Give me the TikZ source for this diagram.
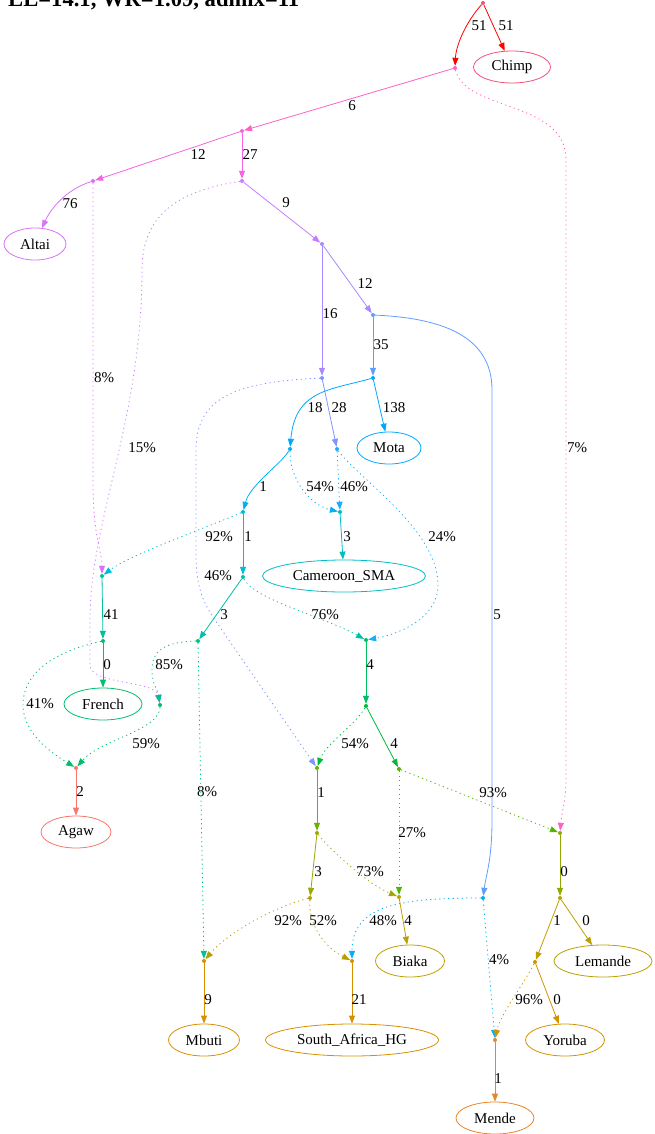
\documentclass[tikz,border=0pt]{standalone}
\usepackage{fontspec}
\setmainfont{Liberation Serif}
\usetikzlibrary{arrows.meta, shapes.geometric}
\definecolor{cRd}{HTML}{FF0000}
\definecolor{cR}{HTML}{F5507A}
\definecolor{cA}{HTML}{FF61C3}
\definecolor{cB}{HTML}{F564E3}
\definecolor{cC}{HTML}{DC71FA}
\definecolor{cD}{HTML}{C77CFF}
\definecolor{cE}{HTML}{AA88FF}
\definecolor{cF}{HTML}{619CFF}
\definecolor{cI}{HTML}{8094FF}
\definecolor{cJ}{HTML}{00A9FF}
\definecolor{cK}{HTML}{00B0F6}
\definecolor{cL}{HTML}{1AAEF8}
\definecolor{cN}{HTML}{00BCD8}
\definecolor{cO}{HTML}{00BFC4}
\definecolor{cQ}{HTML}{00C1A7}
\definecolor{cFa}{HTML}{00C0A0}
\definecolor{cS}{HTML}{00BE70}
\definecolor{cH}{HTML}{00C08B}
\definecolor{cG}{HTML}{00BE67}
\definecolor{cP}{HTML}{00BF5F}
\definecolor{cV}{HTML}{00BA38}
\definecolor{cW}{HTML}{53B400}
\definecolor{cM}{HTML}{6BB100}
\definecolor{cZ}{HTML}{9AA800}
\definecolor{cX}{HTML}{8CAB00}
\definecolor{cAA}{HTML}{B3A000}
\definecolor{cY}{HTML}{BFA000}
\definecolor{cBB}{HTML}{BBA000}
\definecolor{cCC}{HTML}{00B0F6}
\definecolor{cFF}{HTML}{D39200}
\definecolor{cU}{HTML}{D89000}
\definecolor{cEE}{HTML}{E88526}
\definecolor{cT}{HTML}{F8766D}
\begin{document}
\begin{tikzpicture}[x=1pt,y=-1pt,font=\fontsize{15}{18}\selectfont,
    pop/.style={ellipse,line width=.8pt,minimum height=32pt,inner sep=0pt},
    pt/.style={circle,fill,inner sep=0pt,minimum size=4pt},
    arj/.style={line width=.8pt,-{Triangle[length=8pt,width=6pt]}},
    mix/.style={arj,dash pattern=on 1.2pt off 3.3pt},
    lab/.style={inner sep=0pt,text=black}]
  \useasboundingbox (0,0) rectangle (654,1134);
  \node[anchor=base west,inner sep=0pt,font=\bfseries\fontsize{22.6}{26}\selectfont] (title) at (8,7) {LL=14.1, WR=1.09, admix=11};

  \node[pt,cR] (R) at (483,3) {};
  \node[pt,cA] (A) at (455,68) {};
  \node[pt,cB] (B) at (242,131) {};
  \node[pt,cC] (C) at (93,181) {};
  \node[pt,cD] (D) at (242,181) {};
  \node[pt,cE] (E) at (322,244) {};
  \node[pt,cF] (F) at (373,315) {};
  \node[pt,cI] (I) at (322,378) {};
  \node[pt,cJ] (J) at (373,378) {};
  \node[pt,cK] (K) at (290,449) {};
  \node[pt,cL] (L) at (337,449) {};
  \node[pt,cN] (N) at (243,512) {};
  \node[pt,cO] (O) at (340,512) {};
  \node[pt,cQ] (Q) at (243,577) {};
  \node[pt,cFa] (Fa) at (102,576) {};
  \node[pt,cS] (S) at (103,641) {};
  \node[pt,cH] (H) at (198,641) {};
  \node[pt,cG] (G) at (160,705) {};
  \node[pt,cT] (T) at (76,768) {};
  \node[pt,cP] (P) at (366,640) {};
  \node[pt,cV] (V) at (366,706) {};
  \node[pt,cM] (M) at (317,768) {};
  \node[pt,cW] (W) at (399,769) {};
  \node[pt,cZ] (Z) at (317,833) {};
  \node[pt,cX] (X) at (560,833) {};
  \node[pt,cAA] (AA) at (310,898) {};
  \node[pt,cY] (Y) at (399,897) {};
  \node[pt,cCC] (CC) at (483,898) {};
  \node[pt,cBB] (BB) at (560,898) {};
  \node[pt,cU] (U) at (204,961) {};
  \node[pt,cU] (DD) at (352,961) {};
  \node[pt,cFF] (FF) at (535,962) {};
  \node[pt,cEE] (EE) at (495,1040) {};

  \node[pop,draw=cR,minimum width=77pt] (Chimp) at (512,67) {Chimp};
  \node[pop,draw=cC,minimum width=62pt] (Altai) at (35,244) {Altai};
  \node[pop,draw=cJ,minimum width=64pt] (Mota) at (389,448) {Mota};
  \node[pop,draw=cO,minimum width=163pt] (Cameroon) at (344,576) {Cameroon\_SMA};
  \node[pop,draw=cS,minimum width=78pt] (French) at (103,704) {French};
  \node[pop,draw=cT,minimum width=70pt] (Agaw) at (76,832) {Agaw};
  \node[pop,draw=cY,minimum width=69pt] (Biaka) at (410,961) {Biaka};
  \node[pop,draw=cBB,minimum width=98pt] (Lemande) at (603,961) {Lemande};
  \node[pop,draw=cU,minimum width=71pt] (Mbuti) at (204,1040) {Mbuti};
  \node[pop,draw=cU,minimum width=173pt] (SAHG) at (352,1040) {South\_Africa\_HG};
  \node[pop,draw=cFF,minimum width=79pt] (Yoruba) at (565,1040) {Yoruba};
  \node[pop,draw=cEE,minimum width=78pt] (Mende) at (495,1118) {Mende};

  \draw[arj,cRd] (R) .. controls (466,22) and (456,45) .. (A) node[lab] at (479,26) {51};
  \draw[arj,cRd] (R) -- (Chimp) node[lab] at (506,26) {51};
  \draw[arj,cA] (A) -- (B) node[lab] at (352,106) {6};
  \draw[mix,cA] (A) .. controls (466,112) and (566,100) .. (566,160) -- (566,780) .. controls (566,800) and (562,810) .. (X) node[lab] at (577,448) {7\%};
  \draw[arj,cB] (B) -- (C) node[lab] at (198,155) {12};
  \draw[arj,cB] (B) -- (D) node[lab] at (250,155) {27};
  \draw[arj,cC] (C) .. controls (65,190) and (50,210) .. (Altai) node[lab] at (70,204) {76};
  \draw[mix,cC] (C) -- (93,480) .. controls (93,540) and (102,550) .. (Fa) node[lab] at (104,378) {8\%};
  \draw[arj,cD] (D) -- (E) node[lab] at (286,203) {9};
  \draw[mix,cD] (D) .. controls (185,190) and (142,210) .. (142,270) .. controls (142,420) and (90,520) .. (90,620) -- (90,665) .. controls (90,685) and (155,680) .. (G) node[lab] at (142,448) {15\%};
  \draw[arj,cE] (E) -- (F) node[lab] at (365,284) {12};
  \draw[arj,cE] (E) -- (I) node[lab] at (330,314) {16};
  \draw[arj,cF] (F) -- (J) node[lab] at (381,345) {35};
  \draw[arj,cF] (F) .. controls (440,318) and (492,335) .. (492,390) -- (492,820) .. controls (492,860) and (486,875) .. (CC) node[lab] at (497,615) {5};
  \draw[arj,cI] (I) -- (L) node[lab] at (339,408) {28};
  \draw[mix,cI] (I) .. controls (240,382) and (196,395) .. (196,450) -- (196,555) .. controls (196,590) and (205,605) .. (215,620) -- (M) node[lab] at (218,576) {46\%};
  \draw[arj,cJ] (J) -- (Mota) node[lab] at (394,408) {138};
  \draw[arj,cJ] (J) .. controls (330,390) and (295,390) .. (K) node[lab] at (315,408) {18};
  \draw[arj,cK] (K) .. controls (280,465) and (250,485) .. (N) node[lab] at (263,487) {1};
  \draw[mix,cK] (K) .. controls (290,480) and (310,505) .. (O) node[lab] at (320,487) {54\%};
  \draw[mix,cL] (L) -- (O) node[lab] at (354,487) {46\%};
  \draw[mix,cL] (L) .. controls (360,480) and (438,530) .. (438,585) .. controls (438,620) and (395,635) .. (P) node[lab] at (442,537) {24\%};
  \draw[arj,cN] (N) -- (Q) node[lab] at (248,537) {1};
  \draw[mix,cN] (N) .. controls (200,530) and (130,555) .. (Fa) node[lab] at (219,537) {92\%};
  \draw[arj,cO] (O) -- (Cameroon) node[lab] at (347,537) {3};
  \draw[arj,cQ] (Q) -- (H) node[lab] at (224,615) {3};
  \draw[mix,cQ] (Q) .. controls (255,600) and (320,615) .. (P) node[lab] at (325,615) {76\%};
  \draw[arj,cFa] (Fa) -- (S) node[lab] at (111,615) {41};
  \draw[arj,cS] (S) -- (French) node[lab] at (107,665) {0};
  \draw[mix,cS] (S) .. controls (60,650) and (23,670) .. (23,705) .. controls (23,735) and (55,755) .. (T) node[lab] at (40,704) {41\%};
  \draw[mix,cH] (H) .. controls (165,642) and (152,650) .. (152,670) .. controls (152,685) and (158,690) .. (G) node[lab] at (169,665) {85\%};
  \draw[mix,cH] (H) -- (U) node[lab] at (207,792) {8\%};
  \draw[mix,cG] (G) .. controls (160,730) and (100,740) .. (T) node[lab] at (146,744) {59\%};
  \draw[arj,cT] (T) -- (Agaw) node[lab] at (80,792) {2};
  \draw[arj,cP] (P) -- (V) node[lab] at (370,665) {4};
  \draw[mix,cV] (V) .. controls (355,725) and (325,745) .. (M) node[lab] at (355,744) {54\%};
  \draw[arj,cV] (V) -- (W) node[lab] at (394,744) {4};
  \draw[mix,cW] (W) -- (X) node[lab] at (493,793) {93\%};
  \draw[mix,cW] (W) -- (Y) node[lab] at (412,833) {27\%};
  \draw[arj,cM] (M) -- (Z) node[lab] at (321,793) {1};
  \draw[arj,cZ] (Z) -- (AA) node[lab] at (318,872) {3};
  \draw[mix,cZ] (Z) .. controls (335,855) and (370,885) .. (Y) node[lab] at (370,872) {73\%};
  \draw[arj,cX] (X) -- (BB) node[lab] at (564,872) {0};
  \draw[mix,cAA] (AA) .. controls (280,905) and (230,930) .. (U) node[lab] at (288,921) {92\%};
  \draw[mix,cAA] (AA) .. controls (308,930) and (330,950) .. (DD) node[lab] at (323,921) {52\%};
  \draw[mix,cCC] (CC) .. controls (400,898) and (352,905) .. (DD) node[lab] at (383,921) {48\%};
  \draw[mix,cCC] (CC) -- (EE) node[lab] at (499,960) {4\%};
  \draw[arj,cY] (Y) -- (Biaka) node[lab] at (408,921) {4};
  \draw[arj,cBB] (BB) -- (FF) node[lab] at (557,921) {1};
  \draw[arj,cBB] (BB) -- (Lemande) node[lab] at (586,921) {0};
  \draw[mix,cFF] (FF) .. controls (520,990) and (500,1015) .. (EE) node[lab] at (529,1000) {96\%};
  \draw[arj,cFF] (FF) -- (Yoruba) node[lab] at (557,1000) {0};
  \draw[arj,cU] (U) -- (Mbuti) node[lab] at (208,1000) {9};
  \draw[arj,cU] (DD) -- (SAHG) node[lab] at (359,1000) {21};
  \draw[arj,cEE] (EE) -- (Mende) node[lab] at (498,1079) {1};
\end{tikzpicture}
\end{document}
